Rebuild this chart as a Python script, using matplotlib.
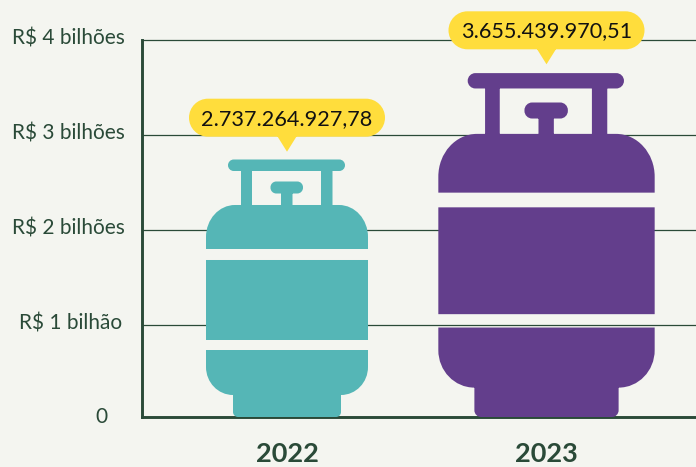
import matplotlib
matplotlib.use("Agg")
import matplotlib.pyplot as plt
from matplotlib.path import Path
from matplotlib.patches import PathPatch
import matplotlib.transforms as mt

FONT = "Lato"
W, H = 696, 467
BG = "#f4f5f0"
INK = "#2a4a38"

years = ["2022", "2023"]
values = [2737264927.78, 3655439970.51]
value_labels = ["2.737.264.927,78", "3.655.439.970,51"]
colors = ["#55b6b6", "#633e8c"]
tick_values = [0, 1e9, 2e9, 3e9, 4e9]
tick_labels = ["0", "R$ 1 bilhão", "R$ 2 bilhões", "R$ 3 bilhões", "R$ 4 bilhões"]
tick_pads = [24.5, 14.0, 12.6, 12.6, 12.6]
tick_lift_px = [5, 3.5, 3.5, 3.5, 3.5]

K = 0.5523
BASE_PX = 3.2       # baseline sits this far above the zero of the scale
REF_H = 260.5       # pixel height of the 2022 value, the size the glyph is drawn at


def rrect(x0, y0, x1, y1, tl=(0, 0), tr=(0, 0), br=(0, 0), bl=(0, 0)):
    """Counter-clockwise rounded rectangle; each corner is (rx, ry)."""
    v = [(x0 + bl[0], y0)]
    c = [Path.MOVETO]

    def line(p):
        v.append(p)
        c.append(Path.LINETO)

    def curve(a, b, p):
        v.extend([a, b, p])
        c.extend([Path.CURVE4] * 3)

    line((x1 - br[0], y0))
    if br[0]:
        curve((x1 - br[0] * (1 - K), y0), (x1, y0 + br[1] * (1 - K)), (x1, y0 + br[1]))
    line((x1, y1 - tr[1]))
    if tr[0]:
        curve((x1, y1 - tr[1] * (1 - K)), (x1 - tr[0] * (1 - K), y1), (x1 - tr[0], y1))
    line((x0 + tl[0], y1))
    if tl[0]:
        curve((x0 + tl[0] * (1 - K), y1), (x0, y1 - tl[1] * (1 - K)), (x0, y1 - tl[1]))
    line((x0, y0 + bl[1]))
    if bl[0]:
        curve((x0, y0 + bl[1] * (1 - K)), (x0 + bl[0] * (1 - K), y0), (x0 + bl[0], y0))
    v.append(v[0])
    c.append(Path.CLOSEPOLY)
    return Path(v, c)


def cylinder_path():
    """Glyph in reference pixels of the 2022 cylinder, centred on x=0, base y=0."""
    r = 5.7
    parts = [
        rrect(-59, 246, 58, 257.5, (r, r), (r, r), (r, r), (r, r)),   # top bar
        rrect(-46, 210, -35, 248),                                     # handles
        rrect(34, 210, 45.5, 248),
        rrect(-16.5, 223.5, 16, 235.5, (r, r), (r, r), (r, r), (r, r)),  # knob
        rrect(-6, 210, 5.5, 226),                                      # stem
        rrect(-81, 168, 81, 212, (29, 32), (29, 32)),                  # upper body
        rrect(-81, 77, 81, 157),                                       # middle band
        rrect(-81, 22, 81, 67, br=(27, 28), bl=(27, 28)),              # lower body
        rrect(-54, 0, 54, 24, br=(5, 5), bl=(5, 5)),                   # foot
    ]
    return Path.make_compound_path(*parts)


def bubble_path():
    """Speech bubble in pixels, tip at (0, 0)."""
    body = rrect(-98, 15, 98, 53, (19, 19), (19, 19), (19, 19), (19, 19))
    tip = Path([(-10, 16), (0, 0), (10, 16), (-10, 16)],
               [Path.MOVETO, Path.LINETO, Path.LINETO, Path.CLOSEPOLY])
    return Path.make_compound_path(body, tip)


PX_PER_BN = 95.17
ZERO_Y = 420.2
TOP_VALUE = 4.05e9
axes_h = TOP_VALUE / 1e9 * PX_PER_BN

fig = plt.figure(figsize=(W / 100, H / 100), dpi=100, facecolor=BG)
ax = fig.add_axes([142 / W, (H - ZERO_Y) / H, (W - 142) / W, axes_h / H], facecolor=BG)
ax.set_xlim((142 - 287) / 259.5, (696 - 287) / 259.5)
ax.set_ylim(0, TOP_VALUE)

baseline = BASE_PX / PX_PER_BN * 1e9
for s in ("top", "right"):
    ax.spines[s].set_visible(False)
for s in ("left", "bottom"):
    ax.spines[s].set_color(INK)
    ax.spines[s].set_linewidth(2.1)
ax.spines["bottom"].set_position(("data", baseline))
ax.spines["left"].set_bounds(baseline, 4e9)

ax.set_yticks(tick_values, tick_labels, fontsize=15, color=INK, family=FONT)
ax.set_xticks(range(len(years)), years, fontsize=19.5, fontweight="bold", color=INK, family=FONT)
ax.tick_params(axis="both", length=0)
ax.tick_params(axis="x", pad=17.7)
ax.grid(axis="y", color=INK, linewidth=0.9)
ax.set_axisbelow(True)
for t, p, lift in zip(ax.yaxis.get_major_ticks(), tick_pads, tick_lift_px):
    t.set_pad(p)
    t.label1.set_transform(t.label1.get_transform() + mt.Affine2D().translate(0, lift))
ax.yaxis.get_major_ticks()[0].gridline.set_visible(False)

fig.canvas.draw()
px_per_value = (ax.transData.transform((0, 1e9))[1] - ax.transData.transform((0, 0))[1]) / 1e9
glyph = cylinder_path()
bubble = bubble_path()

for i, (v, label, col) in enumerate(zip(values, value_labels, colors)):
    scale = v * px_per_value / REF_H
    tf = (mt.Affine2D().scale(scale).translate(0, BASE_PX)
          + mt.ScaledTranslation(i, 0, ax.transData))
    ax.add_patch(PathPatch(glyph, facecolor=col, edgecolor="none", transform=tf, clip_on=False, zorder=3))
    tb = mt.Affine2D().translate(0, 8) + mt.ScaledTranslation(i, v, ax.transData)
    ax.add_patch(PathPatch(bubble, facecolor="#ffdd3c", edgecolor="none", transform=tb, clip_on=False, zorder=4))
    ax.annotate(label, xy=(i, v), xytext=(0, 41 * 0.72), textcoords="offset points",
                ha="center", va="center", fontsize=15.6, color="#111111", family=FONT,
                zorder=5, annotation_clip=False)

fig.savefig("out.png", dpi=100, facecolor=BG)
